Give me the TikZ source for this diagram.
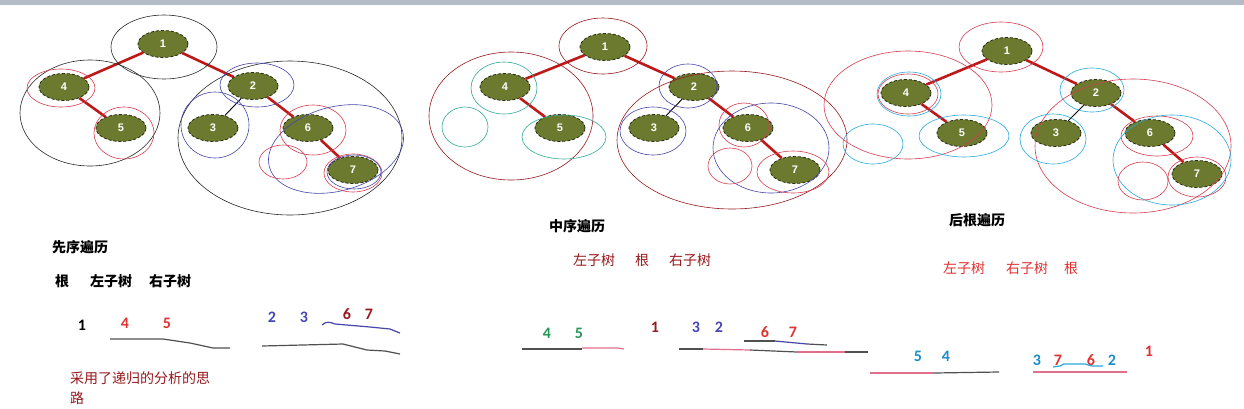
\documentclass[tikz,border=0pt]{standalone}
\usepackage{fontspec}
\setmainfont{Carlito}
\newfontfamily\cjk{Noto Sans CJK SC}
\newfontfamily\numf{Carlito}
\newfontfamily\nodef{Liberation Sans}
\usetikzlibrary{shapes.geometric}
\definecolor{treegreen}{RGB}{107,122,46}
\definecolor{nodeborder}{RGB}{40,45,20}
\definecolor{edgered}{RGB}{190,25,25}
\definecolor{cblack}{RGB}{40,40,40}
\definecolor{cred}{RGB}{215,60,80}
\definecolor{cblue}{RGB}{70,70,170}
\definecolor{cteal}{RGB}{50,170,150}
\definecolor{ccyan}{RGB}{40,170,220}
\definecolor{dred}{RGB}{150,25,30}
\definecolor{tred}{RGB}{225,50,50}
\definecolor{tblue}{RGB}{70,70,180}
\definecolor{tgreen}{RGB}{40,150,90}
\definecolor{tcyan}{RGB}{30,140,200}
\definecolor{barcol}{RGB}{180,188,200}
\definecolor{lgray}{RGB}{80,80,80}
\definecolor{lpink}{RGB}{225,110,140}
\tikzset{
  tnode/.style={ellipse, fill=treegreen, draw=nodeborder, densely dashed, line width=0.8pt,
    minimum width=50pt, minimum height=27pt, inner sep=0pt, text=white,
    font=\nodef\bfseries\fontsize{11}{12}\selectfont},
  tedge/.style={edgered, line width=2.6pt},
  tthin/.style={black, line width=0.9pt},
  ring/.style={line width=0.6pt},
  ttl/.style={font=\cjk\bfseries\fontsize{14}{16}\selectfont, text=black, inner sep=0pt},
  lbl/.style={font=\cjk\fontsize{14}{16}\selectfont, inner sep=0pt},
  digit/.style={font=\numf\bfseries\fontsize{16}{18}\selectfont, inner sep=0pt},
  hand/.style={line width=1.2pt}
}
\begin{document}
\begin{tikzpicture}[x=1pt,y=-1pt]
\clip (0,0) rectangle (1244,408);
\fill[white] (0,0) rectangle (1244,408);
\fill[barcol] (0,0) rectangle (1244,5);

% ---------- tree 1 ----------
\node[tnode] (a1) at (163,44) {1};
\node[tnode] (a4) at (64,87) {4};
\node[tnode] (a5) at (121,128) {5};
\node[tnode] (a2) at (253,86) {2};
\node[tnode] (a3) at (213,128) {3};
\node[tnode] (a6) at (308,128) {6};
\node[tnode] (a7) at (353,170) {7};
\draw[tedge] (a1) -- (a4);
\draw[tedge] (a4) -- (a5);
\draw[tedge] (a1) -- (a2);
\draw[tedge] (a2) -- (a6);
\draw[tedge] (a6) -- (a7);
\draw[tthin] (a2) -- (a3);
\draw[ring,cblack] (164,47) ellipse [x radius=53pt, y radius=32pt];
\draw[ring,cblack] (90,113) ellipse [x radius=70pt, y radius=53pt];
\draw[ring,cred] (61,88) ellipse [x radius=34pt, y radius=19pt];
\draw[ring,cred] (124,133) ellipse [x radius=30pt, y radius=26pt];
\draw[ring,cblack] (290,138) ellipse [x radius=112pt, y radius=77pt];
\draw[ring,cblue] (257,85) ellipse [x radius=37pt, y radius=22pt];
\draw[ring,cblue] (215,125) ellipse [x radius=34pt, y radius=33pt];
\draw[ring,cred] (313,130) ellipse [x radius=33pt, y radius=25pt];
\draw[ring,cblue,rotate around={15:(336,149)}] (336,149) ellipse [x radius=69pt, y radius=42pt];
\draw[ring,cred] (283,162) ellipse [x radius=24pt, y radius=17pt];
\draw[ring,cred] (353,173) ellipse [x radius=29pt, y radius=19pt];
\draw[ring,cblue] (354,172) ellipse [x radius=27pt, y radius=17pt];

% ---------- tree 2 ----------
\node[tnode] (b1) at (605,47) {1};
\node[tnode] (b4) at (505,87) {4};
\node[tnode] (b5) at (560,128) {5};
\node[tnode] (b2) at (694,87) {2};
\node[tnode] (b3) at (654,128) {3};
\node[tnode] (b6) at (748,128) {6};
\node[tnode] (b7) at (795,170) {7};
\draw[tedge] (b1) -- (b4);
\draw[tedge] (b4) -- (b5);
\draw[tedge] (b1) -- (b2);
\draw[tedge] (b2) -- (b6);
\draw[tedge] (b6) -- (b7);
\draw[tthin] (b2) -- (b3);
\draw[ring,dred] (603,46) ellipse [x radius=44pt, y radius=28pt];
\draw[ring,dred] (511,116) ellipse [x radius=82pt, y radius=64pt];
\draw[ring,cteal] (504,88) ellipse [x radius=33pt, y radius=26pt];
\draw[ring,cteal] (465,127) ellipse [x radius=23pt, y radius=20pt];
\draw[ring,cteal] (564,137) ellipse [x radius=42pt, y radius=22pt];
\draw[ring,dred] (732,140) ellipse [x radius=115pt, y radius=69pt];
\draw[ring,cblue] (688,86) ellipse [x radius=29pt, y radius=22pt];
\draw[ring,cblue] (653,131) ellipse [x radius=33pt, y radius=24pt];
\draw[ring,cred] (744,125) ellipse [x radius=25pt, y radius=22pt];
\draw[ring,cblue] (771,148) ellipse [x radius=58pt, y radius=45pt];
\draw[ring,cred] (730,166) ellipse [x radius=22pt, y radius=18pt];
\draw[ring,cred] (793,172) ellipse [x radius=36pt, y radius=21pt];

% ---------- tree 3 ----------
\node[tnode] (c1) at (1007,51) {1};
\node[tnode] (c4) at (906,93) {4};
\node[tnode] (c5) at (962,133) {5};
\node[tnode] (c2) at (1096,93) {2};
\node[tnode] (c3) at (1056,133) {3};
\node[tnode] (c6) at (1150,133) {6};
\node[tnode] (c7) at (1197,174) {7};
\draw[tedge] (c1) -- (c4);
\draw[tedge] (c4) -- (c5);
\draw[tedge] (c1) -- (c2);
\draw[tedge] (c2) -- (c6);
\draw[tedge] (c6) -- (c7);
\draw[tthin] (c2) -- (c3);
\draw[ring,cred] (1001,47) ellipse [x radius=42pt, y radius=25pt];
\draw[ring,cred] (908,105) ellipse [x radius=84pt, y radius=54pt];
\draw[ring,ccyan] (909,94) ellipse [x radius=32pt, y radius=22pt];
\draw[ring,cred] (908,94) ellipse [x radius=30pt, y radius=20pt];
\draw[ring,ccyan] (873,144) ellipse [x radius=30pt, y radius=20pt];
\draw[ring,ccyan] (964,136) ellipse [x radius=45pt, y radius=21pt];
\draw[ring,ccyan] (1092,90) ellipse [x radius=32pt, y radius=22pt];
\draw[ring,cred] (1133,146) ellipse [x radius=98pt, y radius=67pt];
\draw[ring,ccyan] (1053,139) ellipse [x radius=33pt, y radius=25pt];
\draw[ring,cred] (1157,136) ellipse [x radius=36pt, y radius=20pt];
\draw[ring,ccyan] (1172,160) ellipse [x radius=59pt, y radius=45pt];
\draw[ring,cred] (1143,181) ellipse [x radius=25pt, y radius=19pt];
\draw[ring,cred] (1197,177) ellipse [x radius=29pt, y radius=20pt];

% ---------- texts: pre-order ----------
\node[ttl] (t1) at (80,247) {先序遍历};
\node[lbl,font=\cjk\bfseries\fontsize{14}{16}\selectfont] (t1a) at (62,281) {根};
\node[lbl,font=\cjk\bfseries\fontsize{14}{16}\selectfont] (t1b) at (111,281) {左子树};
\node[lbl,font=\cjk\bfseries\fontsize{14}{16}\selectfont] (t1c) at (170,281) {右子树};
\node[digit,text=black] (p1) at (82,325) {1};
\node[digit,text=tred] (p4) at (125,323) {4};
\node[digit,text=tred] (p5) at (167,323) {5};
\node[digit,text=tblue] (p2) at (272,317) {2};
\node[digit,text=tblue] (p3) at (304,317) {3};
\node[digit,text=dred] (p6) at (347,314) {6};
\node[digit,text=dred] (p7) at (369,314) {7};
\draw[hand,lgray] (110,339) -- (163,339) -- (190,343) -- (213,348) -- (230,348);
\draw[hand,cblue] (322,325) .. controls (326,321) and (330,322) .. (335,324) -- (370,327) -- (390,329) -- (400,333);
\draw[hand,lgray] (262,346) -- (343,344) -- (367,350) -- (385,351) -- (400,354);
\node[lbl,text=dred,anchor=west] (r1) at (70,378) {采用了递归的分析的思};
\node[lbl,text=dred,anchor=west] (r2) at (70,398) {路};

% ---------- texts: in-order ----------
\node[ttl] (t2) at (577,226) {中序遍历};
\node[lbl,text=dred] (t2a) at (594,260) {左子树};
\node[lbl,text=dred] (t2b) at (642,260) {根};
\node[lbl,text=dred] (t2c) at (690,260) {右子树};
\node[digit,text=tgreen] (m4) at (547,333) {4};
\node[digit,text=tgreen] (m5) at (579,333) {5};
\node[digit,text=dred] (m1) at (655,327) {1};
\node[digit,text=tblue] (m3) at (696,327) {3};
\node[digit,text=tblue] (m2) at (719,327) {2};
\node[digit,text=tred] (m6) at (765,332) {6};
\node[digit,text=tred] (m7) at (793,332) {7};
\draw[hand,lgray] (522,349) -- (582,349);
\draw[hand,lpink] (582,348) -- (618,348) -- (624,349);
\draw[hand,lgray] (744,341) -- (775,341);
\draw[hand,cblue] (775,341) -- (807,344);
\draw[hand,lgray] (807,344) -- (827,345);
\draw[hand,lgray] (679,349) -- (703,349);
\draw[hand,lpink] (703,349) -- (750,350);
\draw[hand,lgray] (750,350) -- (797,352);
\draw[hand,lpink] (797,352) -- (845,352);
\draw[hand,lgray] (845,352) -- (868,352);

% ---------- texts: post-order ----------
\node[ttl] (t3) at (977,220) {后根遍历};
\node[lbl,text=tred] (t3a) at (964,268) {左子树};
\node[lbl,text=tred] (t3b) at (1027,268) {右子树};
\node[lbl,text=tred] (t3c) at (1071,268) {根};
\node[digit,text=tcyan] (q5) at (918,356) {5};
\node[digit,text=tcyan] (q4) at (946,356) {4};
\node[digit,text=tcyan] (q3) at (1037,360) {3};
\node[digit,text=tred] (q7) at (1058,360) {7};
\node[digit,text=tred] (q6) at (1091,360) {6};
\node[digit,text=tcyan] (q2) at (1112,360) {2};
\node[digit,text=tred] (q1) at (1149,351) {1};
\draw[hand,lpink] (870,373) -- (934,373);
\draw[hand,lgray] (934,373) -- (999,372);
\draw[hand,ccyan] (1053,367) -- (1060,366) -- (1064,364) -- (1085,364) -- (1092,366) -- (1103,366);
\draw[hand,lpink] (1033,372) -- (1127,372);
\end{tikzpicture}
\end{document}
